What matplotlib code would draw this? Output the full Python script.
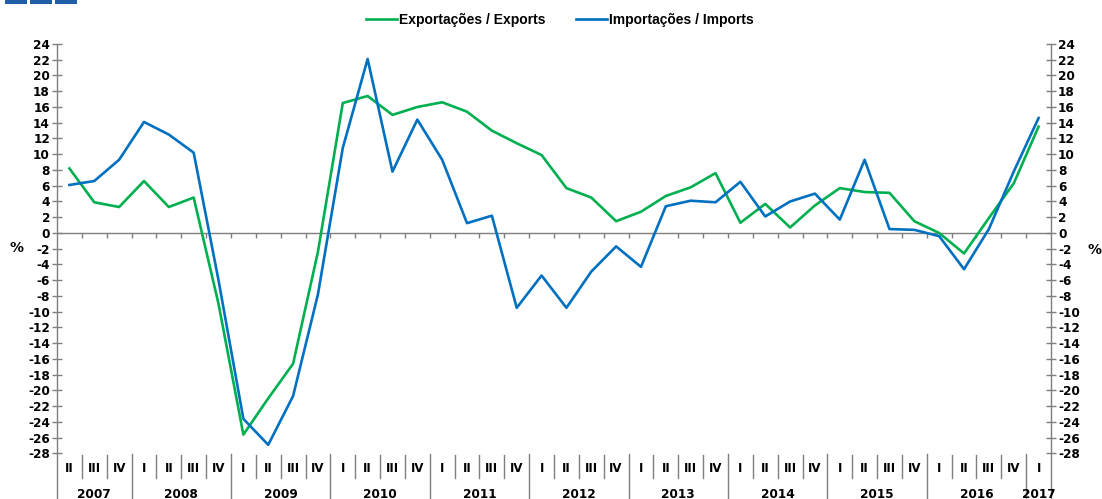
import matplotlib
matplotlib.use("Agg")
import matplotlib.pyplot as plt
from matplotlib.transforms import blended_transform_factory
import numpy as np

plt.rcParams['font.family'] = ['DejaVu Sans']

# quarterly year-on-year change, 2007 Q2 .. 2017 Q1
quarters = ['II', 'III', 'IV'] + ['I', 'II', 'III', 'IV'] * 9 + ['I']
years = ['2007', '2008', '2009', '2010', '2011', '2012', '2013', '2014', '2015', '2016', '2017']
year_counts = [3, 4, 4, 4, 4, 4, 4, 4, 4, 4, 1]

exports = [8.2, 3.9, 3.3, 6.6, 3.3, 4.5, -9.0, -25.6, -21.0, -16.6,
           -2.4, 16.5, 17.4, 15.0, 16.0, 16.6, 15.4, 13.0, 11.4, 9.9,
           5.7, 4.5, 1.5, 2.7, 4.7, 5.8, 7.6, 1.3, 3.7, 0.7,
           3.5, 5.7, 5.2, 5.1, 1.5, 0.0, -2.6, 1.9, 6.3, 13.5]
imports = [6.1, 6.6, 9.3, 14.1, 12.5, 10.2, -6.0, -23.6, -26.9, -20.7,
           -7.8, 10.8, 22.1, 7.8, 14.4, 9.3, 1.25, 2.2, -9.5, -5.4,
           -9.5, -4.9, -1.7, -4.3, 3.4, 4.1, 3.9, 6.5, 2.1, 4.0,
           5.0, 1.7, 9.3, 0.5, 0.4, -0.4, -4.6, 0.5, 7.8, 14.6]

W, H = 1102, 499
fig = plt.figure(figsize=(W / 100, H / 100), dpi=100)
# axes in pixel terms: x 57..1051, y 44 (24) .. 453.5 (-28)
ax = fig.add_axes([57 / W, 1 - 453.5 / H, (1051 - 57) / W, (453.5 - 44) / H])

x = np.arange(len(quarters))
green = '#00b050'
blue = '#0070c0'
grey = '#7f7f7f'

ax.plot(x, exports, color=green, lw=1.9, label='Exportações / Exports', zorder=3)
ax.plot(x, imports, color=blue, lw=1.9, label='Importações / Imports', zorder=3)

ax.set_xlim(-0.5, len(quarters) - 0.5)
ax.set_ylim(-28, 24)
yt = np.arange(-28, 25, 2)
ax.set_yticks(yt)
ax.set_xticks([])

for s in ['top', 'bottom']:
    ax.spines[s].set_visible(False)
for s in ['left', 'right']:
    ax.spines[s].set_color(grey)
    ax.spines[s].set_linewidth(1.0)

ax.tick_params(axis='y', direction='inout', length=7, width=1, color=grey,
               labelsize=8.7, pad=1.5, left=True, right=True,
               labelleft=True, labelright=True)
ax.set_yticklabels([str(v) for v in yt], fontweight='bold')

# zero line with small ticks at quarter boundaries
ax.axhline(0, color=grey, lw=1.0, zorder=2)
bounds = np.arange(-0.5, len(quarters), 1.0)
ax.vlines(bounds[1:-1], -0.65, 0, color=grey, lw=1.0, zorder=2)

# category axis below the plot
tr = blended_transform_factory(ax.transData, fig.transFigure)
def fy(p):
    return 1 - p / H

year_starts = np.cumsum([0] + year_counts[:-1])
year_bounds = set(int(s) for s in year_starts)
for k, b in enumerate(bounds):
    if k in year_bounds or k == len(quarters):
        ax.plot([b, b], [fy(453.5), fy(499)], transform=tr, color=grey,
                lw=1.0, clip_on=False)
    else:
        ax.plot([b, b], [fy(455), fy(478)], transform=tr, color=grey,
                lw=1.0, clip_on=False)

for i, q in enumerate(quarters):
    ax.text(i, fy(468), q, transform=tr, ha='center', va='center',
            fontsize=8.5, fontweight='bold')

for y, s, c in zip(years, year_starts, year_counts):
    ax.text(s + (c - 1) / 2, fy(494), y, transform=tr, ha='center',
            va='center', fontsize=8.7, fontweight='bold')

fig.text(17 / W, fy(248), '%', ha='center', va='center', fontsize=10, fontweight='bold')
fig.text(1095 / W, fy(250), '%', ha='center', va='center', fontsize=10, fontweight='bold')

leg = fig.legend(loc='center', bbox_to_anchor=(0.508, fy(20)), ncol=2,
                 frameon=False, handlelength=2.2, handletextpad=0.15,
                 columnspacing=2.2, prop={'family': ['Liberation Sans Narrow', 'Liberation Sans'],
                                          'weight': 'bold', 'size': 10})

# small header blocks at the top-left corner
for x0 in [5, 30, 55]:
    fig.add_artist(plt.Rectangle((x0 / W, fy(4)), 22 / W, 4 / H,
                                 transform=fig.transFigure, color='#1f5fa8', lw=0))

fig.savefig('out.png', dpi=100)
